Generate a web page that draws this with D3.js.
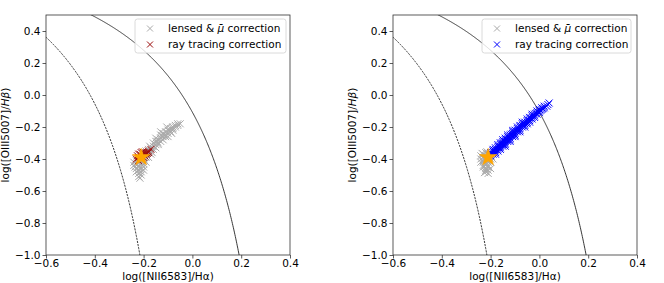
<!DOCTYPE html>
<html>
<head>
<meta charset="utf-8">
<script src="https://cdnjs.cloudflare.com/ajax/libs/d3/7.8.5/d3.min.js"></script>
<style>
  body{margin:0;background:#fff;}
  text{font-family:"DejaVu Sans",sans-serif;fill:#000;}
</style>
</head>
<body>
<div id="chart"></div>
<script>
// axis ticks
var xTicks=[-0.6,-0.4,-0.2,0.0,0.2,0.4];
var yTicks=[0.4,0.2,0.0,-0.2,-0.4,-0.6,-0.8,-1.0];

// left panel: lensed & mu correction
var grayLeft=[[-0.06,-0.18],[-0.07,-0.19],[-0.08,-0.20],[-0.08,-0.22],[-0.09,-0.21],[-0.10,-0.22],[-0.10,-0.24],[-0.11,-0.23],
 [-0.11,-0.25],[-0.12,-0.24],[-0.12,-0.26],[-0.13,-0.25],[-0.13,-0.27],[-0.14,-0.28],[-0.14,-0.30],[-0.15,-0.29],[-0.15,-0.31],
 [-0.16,-0.30],[-0.16,-0.32],[-0.17,-0.33],[-0.17,-0.35],[-0.18,-0.34],[-0.18,-0.36],[-0.19,-0.35],[-0.19,-0.37],[-0.20,-0.38],
 [-0.20,-0.40],[-0.21,-0.39],[-0.21,-0.41],[-0.22,-0.40],[-0.22,-0.42],[-0.23,-0.41],[-0.23,-0.43],[-0.22,-0.44],[-0.21,-0.43],
 [-0.22,-0.45],[-0.23,-0.46],[-0.21,-0.46],[-0.22,-0.47],[-0.20,-0.45],[-0.21,-0.48],[-0.22,-0.49],[-0.21,-0.50],[-0.22,-0.51],
 [-0.20,-0.47],[-0.23,-0.48],[-0.19,-0.42],[-0.20,-0.43],[-0.18,-0.39],[-0.17,-0.37],[-0.16,-0.34],[-0.15,-0.33],[-0.14,-0.31],
 [-0.13,-0.29],[-0.12,-0.28],[-0.11,-0.26],[-0.10,-0.26],[-0.09,-0.23],[-0.08,-0.21],[-0.07,-0.20],[-0.05,-0.18],[-0.06,-0.19],
 [-0.13,-0.23],[-0.15,-0.27],[-0.19,-0.39],[-0.24,-0.44],[-0.24,-0.42],[-0.125,-0.255],[-0.145,-0.29],[-0.095,-0.225],
 [-0.175,-0.32],[-0.165,-0.36],[-0.105,-0.20],[-0.085,-0.24],[-0.235,-0.45],[-0.205,-0.44],[-0.215,-0.52]];
// left panel: ray tracing correction
var redLeft=[[-0.21,-0.38],[-0.22,-0.39],[-0.20,-0.37],[-0.21,-0.36],[-0.22,-0.37],[-0.20,-0.39],[-0.21,-0.40],[-0.19,-0.37],
 [-0.19,-0.36],[-0.20,-0.36],[-0.18,-0.36],[-0.17,-0.34],[-0.22,-0.41],[-0.23,-0.40],[-0.18,-0.35],[-0.225,-0.38],[-0.195,-0.38],
 [-0.215,-0.37],[-0.205,-0.355],[-0.185,-0.365]];

// right panel: lensed & mu correction
var grayRight=[[-0.23,-0.37],[-0.22,-0.36],[-0.21,-0.37],[-0.24,-0.38],[-0.23,-0.39],[-0.22,-0.38],[-0.21,-0.39],[-0.20,-0.38],
 [-0.24,-0.40],[-0.23,-0.41],[-0.22,-0.40],[-0.21,-0.41],[-0.20,-0.40],[-0.23,-0.42],[-0.22,-0.43],[-0.21,-0.42],[-0.20,-0.42],
 [-0.22,-0.44],[-0.21,-0.44],[-0.23,-0.45],[-0.22,-0.46],[-0.21,-0.45],[-0.22,-0.47],[-0.21,-0.47],[-0.22,-0.48],[-0.21,-0.49],
 [-0.20,-0.46],[-0.23,-0.44],[-0.24,-0.42],[-0.19,-0.40],[-0.235,-0.365],[-0.215,-0.355],[-0.225,-0.485]];
// right panel: ray tracing correction
var blueRight=[[-0.20,-0.37],[-0.20,-0.36],[-0.20,-0.38],[-0.19,-0.35],[-0.19,-0.36],[-0.19,-0.37],[-0.18,-0.33],[-0.18,-0.34],
 [-0.18,-0.35],[-0.18,-0.36],[-0.17,-0.32],[-0.17,-0.33],[-0.17,-0.34],[-0.17,-0.35],[-0.16,-0.30],[-0.16,-0.31],[-0.16,-0.32],
 [-0.16,-0.33],[-0.15,-0.29],[-0.15,-0.30],[-0.15,-0.31],[-0.15,-0.32],[-0.14,-0.27],[-0.14,-0.28],[-0.14,-0.29],[-0.14,-0.30],
 [-0.14,-0.31],[-0.13,-0.26],[-0.13,-0.27],[-0.13,-0.28],[-0.13,-0.29],[-0.12,-0.25],[-0.12,-0.26],[-0.12,-0.27],[-0.12,-0.28],
 [-0.11,-0.23],[-0.11,-0.24],[-0.11,-0.25],[-0.11,-0.26],[-0.10,-0.22],[-0.10,-0.23],[-0.10,-0.24],[-0.10,-0.25],[-0.09,-0.21],
 [-0.09,-0.22],[-0.09,-0.23],[-0.08,-0.19],[-0.08,-0.20],[-0.08,-0.21],[-0.08,-0.22],[-0.07,-0.18],[-0.07,-0.19],[-0.07,-0.20],
 [-0.06,-0.17],[-0.06,-0.18],[-0.06,-0.19],[-0.05,-0.16],[-0.05,-0.17],[-0.05,-0.18],[-0.04,-0.14],[-0.04,-0.15],[-0.04,-0.16],
 [-0.03,-0.13],[-0.03,-0.14],[-0.03,-0.15],[-0.02,-0.12],[-0.02,-0.13],[-0.01,-0.11],[-0.01,-0.12],[0.00,-0.09],[0.00,-0.10],
 [0.01,-0.09],[0.01,-0.08],[0.02,-0.07],[0.03,-0.07],[0.04,-0.05],[-0.185,-0.345],[-0.165,-0.325],[-0.155,-0.30],[-0.135,-0.28],
 [-0.115,-0.245],[-0.095,-0.225],[-0.075,-0.195],[-0.055,-0.175],[-0.035,-0.145],[-0.015,-0.115],[0.005,-0.095],[0.015,-0.085],
 [-0.19,-0.34],[-0.17,-0.31],[-0.15,-0.28],[-0.13,-0.25],[-0.11,-0.22],[-0.09,-0.20],[-0.07,-0.17],[-0.05,-0.15],
 [-0.18,-0.37],[-0.16,-0.34],[-0.14,-0.32],[-0.12,-0.29],[-0.10,-0.26],[-0.08,-0.23],[-0.06,-0.20],[-0.04,-0.17],
 [-0.02,-0.14],[0.00,-0.11],[-0.03,-0.12],[-0.01,-0.10],[0.02,-0.08],[0.035,-0.06]];

// observed value (star)
var starPoint=[-0.21,-0.39];

// Kauffmann 2003 (dashed) and Kewley 2001 (solid) demarcation curves
var kauff={a:0.61,b:0.05,c:1.3};
var kewley={a:0.61,b:0.47,c:1.19};

var W=664,H=283;
var svg=d3.select("#chart").append("svg").attr("width",W).attr("height",H);

var panels=[
  {left:46,gray:grayLeft,ray:redLeft,rayColor:"#9b0d0d",legendX:135,legendW:151},
  {left:393,gray:grayRight,ray:blueRight,rayColor:"#0000ff",legendX:482,legendW:149}
];
var pw=244,padTop=15,ph=240;

function cross(sel,size,color){
  var s=size/2;
  sel.append("path").attr("d","M"+(-s)+","+(-s)+"L"+s+","+s+"M"+(-s)+","+s+"L"+s+","+(-s))
    .attr("stroke",color).attr("stroke-width",1).attr("fill","none");
}

panels.forEach(function(p,i){
  var x=d3.scaleLinear().domain([-0.6,0.4]).range([0,pw]);
  var y=d3.scaleLinear().domain([-1.0,0.5]).range([ph,0]);
  var g=svg.append("g").attr("transform","translate("+p.left+","+padTop+")");

  g.append("clipPath").attr("id","clip"+i).append("rect").attr("width",pw).attr("height",ph);
  var plot=g.append("g").attr("clip-path","url(#clip"+i+")");

  function curve(c,x0,x1){
    var xs=d3.range(x0,x1,0.002);
    return d3.line().x(function(v){return x(v);}).y(function(v){return y(c.a/(v-c.b)+c.c);})(xs);
  }
  plot.append("path").attr("d",curve(kauff,-0.62,-0.2)).attr("fill","none")
    .attr("stroke","#222").attr("stroke-width",0.9).attr("stroke-dasharray","2.2,1");
  plot.append("path").attr("d",curve(kewley,-0.45,0.2)).attr("fill","none")
    .attr("stroke","#222").attr("stroke-width",0.9);

  plot.selectAll(".g").data(p.gray).enter().append("g")
    .attr("transform",function(d){return "translate("+x(d[0])+","+y(d[1])+")";})
    .each(function(){cross(d3.select(this),7,"#aaaaaa");});
  plot.selectAll(".r").data(p.ray).enter().append("g")
    .attr("transform",function(d){return "translate("+x(d[0])+","+y(d[1])+")";})
    .each(function(){cross(d3.select(this),7,p.rayColor);});

  plot.append("path").attr("d",d3.symbol(d3.symbolStar,95)())
    .attr("transform","translate("+x(starPoint[0])+","+y(starPoint[1])+")")
    .attr("fill","#ffa500").attr("stroke","#ffa500").attr("stroke-width",0.5);

  var xa=g.append("g").attr("transform","translate(0,"+ph+")")
    .call(d3.axisBottom(x).tickValues(xTicks).tickFormat(d3.format(".1f")).tickSize(3.5).tickPadding(1.5));
  var ya=g.append("g")
    .call(d3.axisLeft(y).tickValues(yTicks).tickFormat(d3.format(".1f")).tickSize(3.5).tickPadding(2));
  [xa,ya].forEach(function(a){
    a.select(".domain").remove();
    a.selectAll("line").attr("stroke","#333").attr("stroke-width",0.8);
    a.selectAll("text").style("font-size","10.5px").style("font-family","DejaVu Sans").attr("fill","#000");
  });

  g.append("rect").attr("width",pw).attr("height",ph).attr("fill","none")
    .attr("stroke","#333").attr("stroke-width",0.8);

  g.append("text").attr("x",pw/2).attr("y",ph+25).attr("text-anchor","middle")
    .style("font-size","10.5px").text("log([NII6583]/H\u03b1)");
  var yl=g.append("text").attr("transform","translate(-37,"+(ph/2)+") rotate(-90)")
    .attr("text-anchor","middle").style("font-size","10.5px");
  yl.append("tspan").text("log([OIII5007]/");
  yl.append("tspan").style("font-style","italic").text("H\u03b2");
  yl.append("tspan").text(")");

  // legend
  var lg=svg.append("g").attr("transform","translate("+p.legendX+",19)");
  lg.append("rect").attr("width",p.legendW).attr("height",34).attr("rx",2.5)
    .attr("fill","#fff").attr("fill-opacity",0.8).attr("stroke","#d0d0d0").attr("stroke-width",0.8);
  var rows=[{c:"#aaaaaa",t:"lensed"},{c:p.rayColor,t:"ray tracing correction"}];
  rows.forEach(function(r,k){
    var ry=9.5+k*16;
    var m=lg.append("g").attr("transform","translate(15,"+ry+")");
    cross(m,6,r.c);
    var t=lg.append("text").attr("x",33).attr("y",ry+3.8).style("font-size","10.5px");
    if(k===0){
      t.append("tspan").text("lensed & ");
      t.append("tspan").style("font-style","italic").text("\u03bc\u0304");
      t.append("tspan").text(" correction");
    } else {
      t.text(r.t);
    }
  });
});
</script>
</body>
</html>
